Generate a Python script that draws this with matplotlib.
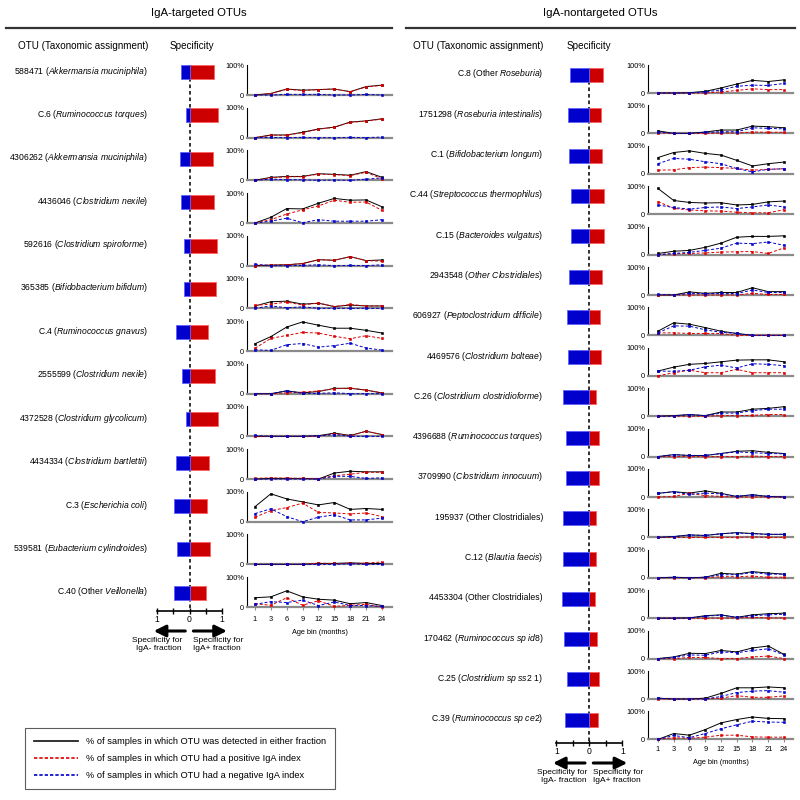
import matplotlib
matplotlib.use('Agg')
import matplotlib.pyplot as plt
from matplotlib.lines import Line2D
from matplotlib.patches import FancyArrowPatch
import numpy as np

plt.rcParams['font.family'] = 'Liberation Sans'
plt.rcParams['mathtext.fontset'] = 'custom'
plt.rcParams['mathtext.rm'] = 'Liberation Sans'
plt.rcParams['mathtext.it'] = 'Liberation Sans:italic'

age_bins = [1, 3, 6, 9, 12, 15, 18, 21, 24]

# IgA-targeted OTUs
tgt_ids = ['588471', 'C.6', '4306262', '4436046', '592616', '365385', 'C.4',
           '2555599', '4372528', '4434334', 'C.3', '539581', 'C.40']
tgt_plain = ['', '', '', '', '', '', '', '', '', '', '', '', 'Other ']
tgt_ital = ['Akkermansia muciniphila', 'Ruminococcus torques', 'Akkermansia muciniphila',
            'Clostridium nexile', 'Clostridium spiroforme', 'Bifidobacterium bifidum',
            'Ruminococcus gnavus', 'Clostridium nexile', 'Clostridium glycolicum',
            'Clostridium bartlettii', 'Escherichia coli', 'Eubacterium cylindroides',
            'Veillonella']
tgt_spec_pos = [0.74, 0.89, 0.72, 0.76, 0.84, 0.82, 0.58, 0.78, 0.89, 0.59, 0.54, 0.62, 0.51]
tgt_spec_neg = [-0.26, -0.12, -0.28, -0.26, -0.17, -0.18, -0.43, -0.24, -0.12, -0.43, -0.47, -0.39, -0.49]
tgt_detected = [
    [0, 5, 20, 16, 18, 20, 11, 28, 33],
    [0, 9, 9, 18, 29, 35, 52, 56, 63],
    [0, 10, 13, 13, 22, 20, 17, 29, 10],
    [0, 19, 48, 47, 66, 82, 76, 77, 54],
    [0, 2, 3, 7, 20, 18, 30, 17, 19],
    [8, 22, 24, 14, 17, 6, 11, 8, 8],
    [24, 48, 80, 97, 86, 76, 76, 69, 60],
    [0, 0, 9, 3, 7, 18, 18, 12, 2],
    [0, 0, 0, 0, 2, 11, 3, 17, 6],
    [0, 2, 2, 2, 0, 20, 26, 24, 24],
    [50, 93, 76, 66, 56, 64, 41, 44, 41],
    [0, 0, 0, 0, 3, 3, 5, 3, 3],
    [31, 34, 54, 34, 26, 23, 11, 15, 5],
]
tgt_positive = [
    [0, 5, 19, 15, 18, 20, 11, 27, 32],
    [0, 8, 8, 17, 28, 35, 51, 55, 62],
    [0, 8, 12, 12, 21, 19, 16, 27, 5],
    [0, 11, 30, 44, 57, 76, 69, 70, 42],
    [0, 2, 3, 7, 20, 18, 30, 17, 15],
    [10, 14, 21, 11, 18, 6, 13, 8, 8],
    [9, 42, 52, 62, 60, 49, 41, 51, 42],
    [0, 0, 3, 5, 9, 16, 19, 12, 3],
    [0, 0, 0, 0, 0, 9, 2, 17, 6],
    [2, 4, 3, 2, 1, 11, 16, 23, 22],
    [15, 37, 47, 62, 31, 29, 26, 29, 17],
    [0, 0, 0, 0, 4, 3, 3, 4, 8],
    [11, 6, 31, 6, 21, 2, 6, 9, 0],
]
tgt_negative = [
    [0, 0, 2, 2, 2, 0, 0, 2, 0],
    [0, 1, 0, 1, 0, 0, 1, 0, 2],
    [0, 4, 2, 2, 0, 1, 0, 4, 8],
    [0, 6, 16, 1, 11, 6, 6, 6, 11],
    [5, 0, 0, 1, 3, 0, 1, 0, 3],
    [0, 8, 2, 5, 0, 0, 0, 0, 0],
    [4, 2, 21, 25, 13, 18, 26, 10, 3],
    [0, 0, 10, 1, 1, 3, 0, 0, 0],
    [3, 0, 0, 0, 2, 6, 0, 0, 0],
    [0, 0, 0, 0, 0, 9, 9, 2, 4],
    [27, 43, 17, 0, 15, 23, 6, 6, 12],
    [0, 0, 0, 0, 0, 0, 2, 0, 0],
    [9, 18, 15, 23, 5, 17, 5, 5, 2],
]

# IgA-nontargeted OTUs
non_ids = ['C.8', '1751298', 'C.1', 'C.44', 'C.15', '2943548', '606927', '4469576',
           'C.26', '4396688', '3709990', '195937', 'C.12', '4453304', '170462', 'C.25', 'C.39']
non_plain = ['Other ', '', '', '', '', '', '', '', '', '', '', 'Other Clostridiales', '',
             'Other Clostridiales', '', '', '']
non_ital = ['Roseburia', 'Roseburia intestinalis', 'Bifidobacterium longum',
            'Streptococcus thermophilus', 'Bacteroides vulgatus', 'Other Clostridiales',
            'Peptoclostridium difficile', 'Clostridium bolteae', 'Clostridium clostridioforme',
            'Ruminococcus torques', 'Clostridium innocuum', '', 'Blautia faecis', '',
            'Ruminococcus sp id8', 'Clostridium sp ss2 1', 'Ruminococcus sp ce2']
non_spec_pos = [0.42, 0.34, 0.39, 0.44, 0.44, 0.39, 0.32, 0.35, 0.20, 0.28, 0.28, 0.20,
                0.20, 0.17, 0.23, 0.30, 0.26]
non_spec_neg = [-0.57, -0.65, -0.61, -0.56, -0.56, -0.61, -0.67, -0.64, -0.79, -0.72, -0.72,
                -0.79, -0.79, -0.82, -0.77, -0.69, -0.73]
non_detected = [
    [0, 0, 1, 6, 18, 32, 45, 41, 47],
    [9, 0, 0, 5, 12, 12, 26, 24, 20],
    [58, 76, 82, 73, 67, 48, 28, 36, 42],
    [92, 49, 42, 40, 41, 33, 35, 44, 47],
    [4, 12, 15, 26, 41, 62, 65, 65, 67],
    [0, 0, 11, 6, 9, 9, 26, 12, 12],
    [15, 45, 40, 28, 15, 7, 0, 0, 0],
    [17, 31, 41, 44, 50, 56, 57, 57, 50],
    [0, 2, 6, 2, 15, 15, 25, 28, 34],
    [0, 7, 4, 4, 11, 19, 21, 15, 11],
    [13, 19, 14, 22, 13, 2, 8, 2, 0],
    [0, 3, 9, 7, 13, 17, 14, 11, 11],
    [0, 2, 0, 2, 16, 13, 22, 17, 13],
    [0, 0, 1, 9, 12, 3, 12, 16, 18],
    [0, 6, 19, 18, 29, 24, 38, 45, 15],
    [3, 0, 0, 3, 20, 40, 40, 43, 40],
    [0, 21, 15, 35, 59, 71, 80, 75, 74],
]
non_positive = [
    [0, 0, 0, 0, 4, 9, 15, 12, 12],
    [2, 0, 0, 0, 1, 1, 5, 4, 4],
    [13, 14, 22, 24, 22, 19, 13, 16, 18],
    [45, 21, 15, 12, 11, 7, 5, 5, 16],
    [0, 3, 4, 6, 9, 10, 11, 4, 24],
    [0, 0, 0, 0, 0, 0, 6, 2, 2],
    [9, 9, 7, 7, 7, 0, 0, 0, 0],
    [0, 11, 20, 11, 11, 23, 11, 11, 11],
    [0, 0, 0, 0, 2, 2, 3, 6, 6],
    [0, 0, 0, 0, 0, 0, 2, 0, 0],
    [0, 2, 13, 5, 2, 0, 0, 0, 0],
    [0, 0, 0, 0, 0, 0, 2, 0, 0],
    [0, 0, 0, 0, 4, 4, 6, 2, 2],
    [0, 0, 0, 0, 0, 1, 3, 1, 1],
    [0, 0, 4, 4, 0, 0, 6, 9, 0],
    [0, 0, 0, 0, 3, 12, 6, 6, 11],
    [0, 6, 4, 8, 15, 15, 9, 8, 8],
]
non_negative = [
    [0, 0, 0, 4, 11, 24, 28, 27, 34],
    [6, 0, 0, 4, 6, 6, 20, 18, 16],
    [36, 55, 52, 43, 36, 19, 7, 16, 18],
    [33, 24, 18, 24, 26, 20, 26, 33, 26],
    [0, 4, 8, 15, 23, 41, 39, 45, 33],
    [2, 0, 6, 5, 6, 5, 18, 9, 9],
    [9, 34, 33, 20, 11, 7, 0, 0, 0],
    [17, 16, 20, 32, 38, 28, 43, 41, 36],
    [0, 0, 6, 2, 11, 11, 20, 25, 25],
    [0, 7, 4, 4, 11, 17, 14, 11, 10],
    [13, 19, 9, 14, 11, 2, 8, 2, 0],
    [0, 3, 8, 7, 13, 16, 13, 11, 11],
    [0, 2, 0, 2, 11, 11, 19, 13, 13],
    [0, 0, 1, 7, 11, 3, 9, 12, 14],
    [0, 4, 13, 12, 24, 21, 29, 35, 13],
    [3, 0, 0, 0, 9, 23, 28, 30, 24],
    [0, 14, 6, 21, 38, 52, 65, 62, 61],
]

legend_labels = ['% of samples in which OTU was detected in either fraction',
                 '% of samples in which OTU had a positive IgA index',
                 '% of samples in which OTU had a negative IgA index']

RED = '#DD0000'
BLUE = '#0000CC'
W, H = 800, 800

fig = plt.figure(figsize=(8, 8), dpi=100)


def rect(x, y, w, h):
    return [x / W, 1 - (y + h) / H, w / W, h / H]


def fxy(x, y):
    return (x / W, 1 - y / H)


def otu_label(i, plain, ital):
    s = i + ' (' + plain
    if ital:
        s += r'$\mathit{' + ital.replace(' ', r'\ ') + '}$'
    return s + ')'


def draw_panel(cfg, ids, plain, ital, spos, sneg, det, ppos, pneg):
    n = len(ids)
    # titles
    fig.text(*fxy(cfg['title_x'], 13), cfg['title'], ha='center', va='center', fontsize=8.2)
    fig.add_artist(Line2D([cfg['rule'][0] / W, cfg['rule'][1] / W], [1 - 28 / H] * 2,
                          color='#333333', lw=1.6, transform=fig.transFigure))
    fig.text(*fxy(cfg['label_r'], 46), 'OTU (Taxonomic assignment)', ha='right', va='center',
             fontsize=7.1)
    fig.text(*fxy(cfg['spec_head'], 46), 'Specificity', ha='left', va='center', fontsize=7.1)

    # OTU labels
    for k in range(n):
        fig.text(*fxy(cfg['label_r'], cfg['bar_y0'] + k * cfg['bar_dy'] - 1),
                 otu_label(ids[k], plain[k], ital[k]), ha='right', va='center', fontsize=6.2)

    # specificity bars
    z, u = cfg['zero'], cfg['unit']
    top, bot = cfg['bar_y0'] - 20, cfg['spec_axis']
    ax = fig.add_axes(rect(z - 1.2 * u, top, 2.4 * u, bot - top))
    ax.set_xlim(-1.2, 1.2)
    ylo = (bot - cfg['bar_y0']) / cfg['bar_dy']
    ax.set_ylim(ylo, (top - cfg['bar_y0']) / cfg['bar_dy'])
    rows = np.arange(n)
    bh = 14 / cfg['bar_dy']
    ax.barh(rows, spos, height=bh, color='#CC0000', edgecolor='#FF6060', lw=0.6, zorder=2)
    ax.barh(rows, sneg, height=bh, color=BLUE, edgecolor='#6060FF', lw=0.6, zorder=2)
    ax.vlines(0, -bh / 2, ylo, colors='#222222', linestyles=(0, (2, 1.6)), lw=1.3, zorder=1)
    for s in ['top', 'left', 'right']:
        ax.spines[s].set_visible(False)
    ax.spines['bottom'].set_bounds(-1, 1)
    ax.spines['bottom'].set_linewidth(1.2)
    ax.set_yticks([])
    ax.set_xticks([-1, 0, 1])
    ax.set_xticklabels(['1', '0', '1'])
    ax.set_xticks([-0.5, 0.5], minor=True)
    ax.tick_params(axis='x', which='both', direction='inout', length=4, width=1, labelsize=6.2, pad=1)
    ax.patch.set_visible(False)

    ay = bot + 20
    for a, b in [(-0.13, -1.1), (0.12, 1.15)]:
        fig.add_artist(FancyArrowPatch(fxy(z + a * u, ay), fxy(z + b * u, ay),
                                       transform=fig.transFigure, color='k', lw=2.2,
                                       arrowstyle='-|>,head_length=0.7,head_width=0.35',
                                       mutation_scale=10, shrinkA=0, shrinkB=0))
    fig.text(*fxy(cfg['txt_l'], bot + 26), 'Specificity for\nIgA- fraction', ha='right',
             va='top', fontsize=6, linespacing=1.25)
    fig.text(*fxy(cfg['txt_r'], bot + 26), 'Specificity for\nIgA+ fraction', ha='left',
             va='top', fontsize=6, linespacing=1.25)

    # occupancy line charts
    x = np.arange(len(age_bins))
    for k in range(n):
        base = cfg['base0'] + k * cfg['base_dy']
        cax = fig.add_axes(rect(cfg['chart_x'], base - cfg['chart_h'], 145, cfg['chart_h']))
        cax.plot(x, det[k], color='k', lw=0.7, marker='s', ms=1.9, mew=0.4,
                 clip_on=False, zorder=3)
        cax.plot(x, ppos[k], color=RED, lw=0.7, ls=(0, (3, 2)), marker='s', ms=1.9, mew=0.4,
                 clip_on=False, zorder=4)
        cax.plot(x, pneg[k], color=BLUE, lw=0.7, ls=(0, (3, 2)), marker='s', ms=1.9, mew=0.4,
                 clip_on=False, zorder=5)
        cax.set_ylim(0, 100)
        cax.set_xlim(cfg['xlim'])
        cax.set_yticks([0, 100])
        cax.set_yticklabels(['0', '100%'])
        cax.tick_params(axis='y', length=0, labelsize=5.3, pad=2)
        cax.spines['top'].set_visible(False)
        cax.spines['right'].set_visible(False)
        cax.spines['left'].set_linewidth(0.8)
        cax.spines['bottom'].set_linewidth(1.6)
        cax.spines['bottom'].set_color('#8a8a8a')
        cax.patch.set_visible(False)
        if k == n - 1:
            cax.set_xticks(x)
            cax.set_xticklabels(age_bins)
            cax.tick_params(axis='x', length=2, color='#8a8a8a', labelsize=5.3, pad=cfg['xpad'])
            cax.set_xlabel('Age bin (months)', fontsize=5.3, labelpad=4)
        else:
            cax.set_xticks([])


left_cfg = dict(title='IgA-targeted OTUs', title_x=199, rule=(6, 392), label_r=148,
                spec_head=170, bar_y0=72, bar_dy=43.4, zero=189.5, unit=32.5,
                spec_axis=611, txt_l=182, txt_r=193, base0=95, base_dy=42.67,
                chart_x=247, chart_h=30, xlim=(-0.5, 8.63), xpad=4.5)
right_cfg = dict(title='IgA-nontargeted OTUs', title_x=600, rule=(406, 795), label_r=543,
                 spec_head=567, bar_y0=75, bar_dy=40.3, zero=589.3, unit=33,
                 spec_axis=743, txt_l=587, txt_r=593, base0=93, base_dy=40.4,
                 chart_x=648, chart_h=28, xlim=(-0.63, 8.57), xpad=3)

draw_panel(left_cfg, tgt_ids, tgt_plain, tgt_ital, tgt_spec_pos, tgt_spec_neg,
           tgt_detected, tgt_positive, tgt_negative)
draw_panel(right_cfg, non_ids, non_plain, non_ital, non_spec_pos, non_spec_neg,
           non_detected, non_positive, non_negative)

handles = [Line2D([], [], color='#222222', lw=1.3),
           Line2D([], [], color=RED, lw=1.2, ls=(0, (2, 1.2))),
           Line2D([], [], color=BLUE, lw=1.2, ls=(0, (2, 1.2)))]
leg = fig.legend(handles, legend_labels, loc='upper left', bbox_to_anchor=fxy(25, 728),
                 fontsize=6.7, frameon=True, fancybox=False, handlelength=4.7,
                 handletextpad=0.85, labelspacing=0.85, borderpad=1.0, borderaxespad=0)
leg.get_frame().set_edgecolor('#333333')
leg.get_frame().set_linewidth(0.8)

fig.savefig('out.png', dpi=100)
